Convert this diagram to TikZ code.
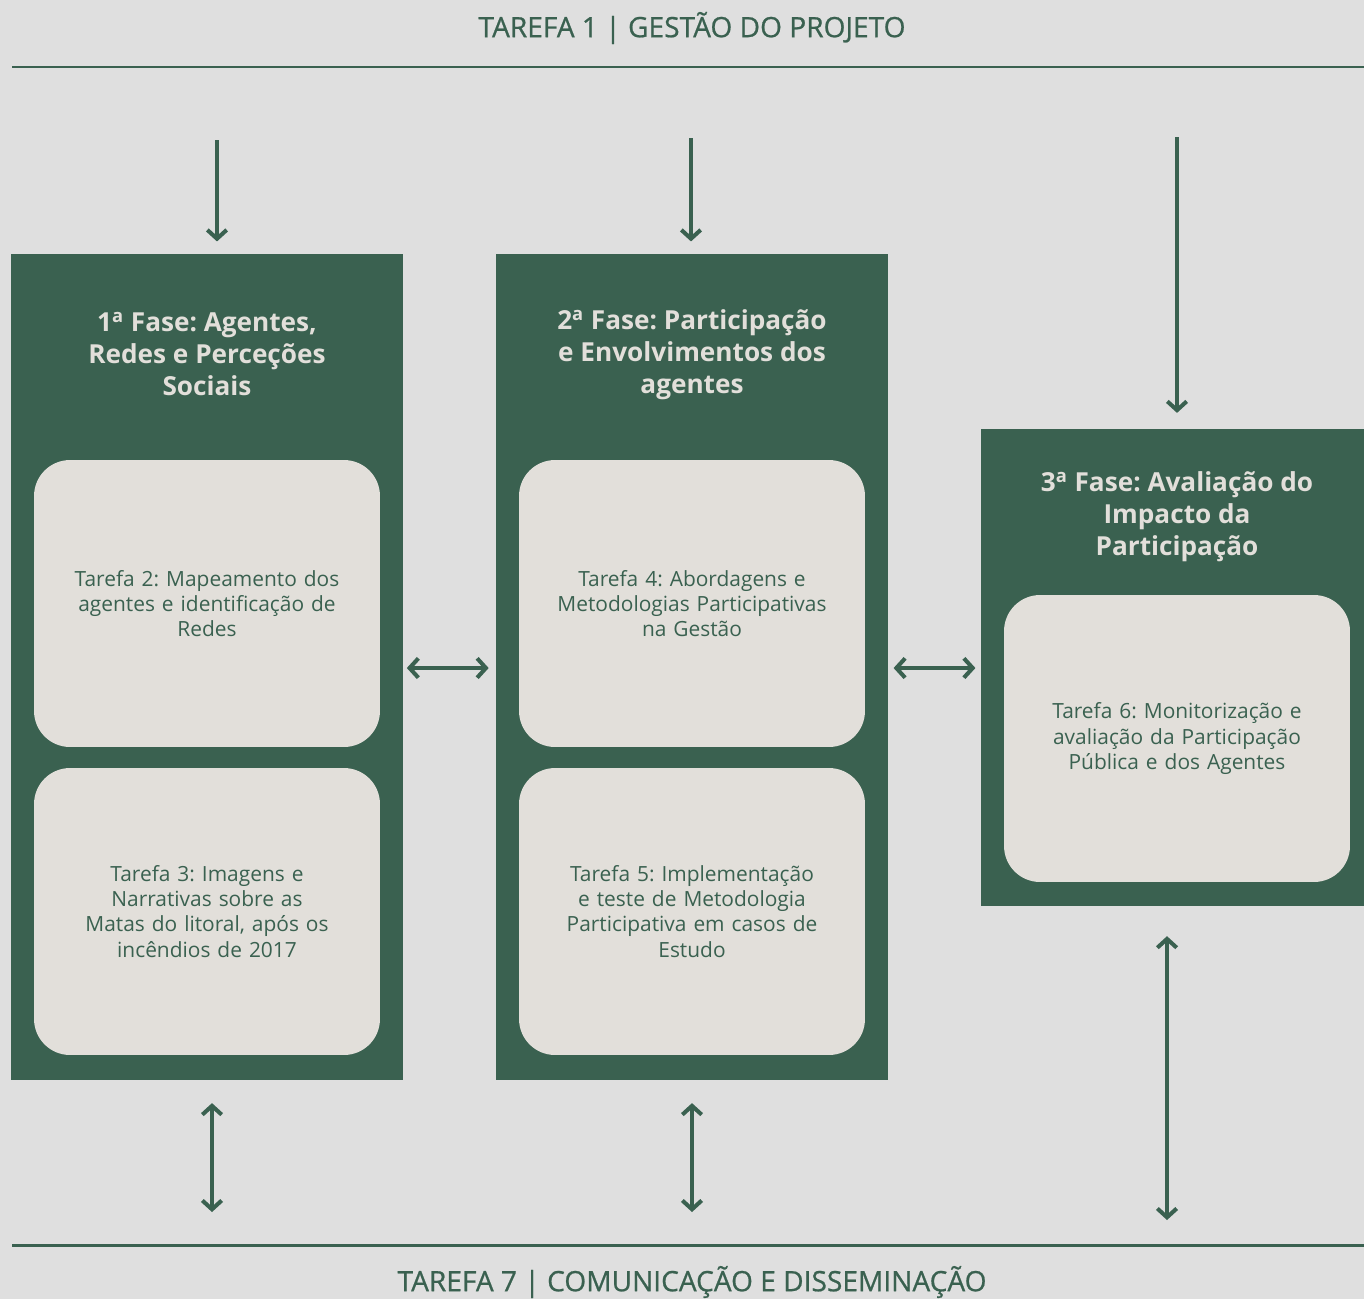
\documentclass[tikz,border=0pt]{standalone}
\usepackage{fontspec}
\setmainfont{Open Sans}
\newfontfamily\cabecfont{Open Sans}[FakeBold=0.7]
\usetikzlibrary{arrows.meta,positioning}
\definecolor{verde}{HTML}{3A6150}
\definecolor{fundo}{HTML}{DFDFDF}
\definecolor{creme}{HTML}{E2DFDA}
\newcommand{\ord}{\textsuperscript{a}}
\frenchspacing
\tikzset{
  fase/.style={fill=verde,inner sep=0pt},
  tarefa/.style={fill=creme,rounded corners=0.72cm,minimum width=6.92cm,minimum height=5.74cm,
    text width=6.4cm,align=center,text=verde,font=\fontsize{11.9}{14.3}\selectfont},
  titulo/.style={text=creme,align=center,font=\bfseries\fontsize{14.9}{18.2}\selectfont},
  cabec/.style={text=verde,font=\cabecfont\fontsize{16}{18}\selectfont},
  regua/.style={draw=verde,line width=1.7pt},
  seta/.style={draw=verde,line width=2.3pt,-{Straight Barb[length=5pt,width=11pt]}},
  setas/.style={draw=verde,line width=2.3pt,{Straight Barb[length=5pt,width=11pt]}-{Straight Barb[length=5pt,width=11pt]}}
}
\begin{document}
\begin{tikzpicture}[x=0.02cm,y=-0.02cm]
\fill[fundo] (0,0) rectangle (1364,1299);
\clip (0,0) rectangle (1364,1299);
% cabecalho e rodape
\node[cabec] (t1) at (692,28) {TAREFA 1 | GESTÃO DO PROJETO};
\node[cabec] (t7) at (692,1282) {TAREFA 7 | COMUNICAÇÃO E DISSEMINAÇÃO};
\coordinate (L1) at (12,67);
\coordinate (R1) at (1364,67);
\coordinate (L7) at (12,1245);
\coordinate (R7) at (1364,1245);
\draw[regua] (L1) -- (R1);
\draw[regua] (L7) -- (R7);
% fases
\node[fase,minimum width=7.84cm,minimum height=16.52cm] (f1) at (207,667) {};
\node[fase,minimum width=7.84cm,minimum height=16.52cm] (f2) at (692,667) {};
\node[fase,minimum width=7.66cm,minimum height=9.54cm] (f3) at (1172.5,667.5) {};
\node[titulo] (h1) at (207,354) {1\ord{} Fase: Agentes,\\Redes e Perceções\\Sociais};
\node[titulo] (h2) at (692,355) {2\ord{} Fase: Participação\\e Envolvimentos dos\\agentes};
\node[titulo] (h3) at (1177,517) {3\ord{} Fase: Avaliação do\\Impacto da\\Participação};
% tarefas
\node[tarefa] (k2) at (207,603.5) {Tarefa 2: Mapeamento dos\\agentes e identificação de\\Redes};
\node[tarefa] (k3) at (207,911.5) {Tarefa 3: Imagens e\\Narrativas sobre as\\Matas do litoral, após os\\incêndios de 2017};
\node[tarefa] (k4) at (692,603.5) {Tarefa 4: Abordagens e\\Metodologias Participativas\\na Gestão};
\node[tarefa] (k5) at (692,911.5) {Tarefa 5: Implementação\\e teste de Metodologia\\Participativa em casos de\\Estudo};
\node[tarefa] (k6) at (1177,738.5) {Tarefa 6: Monitorização e\\avaliação da Participação\\Pública e dos Agentes};
% setas de cima
\coordinate (a1) at (217,140);
\coordinate (a2) at (691,138);
\coordinate (a3) at (1177,137);
\draw[seta,shorten >=7pt] (a1) -- (a1 |- f1.north);
\draw[seta,shorten >=7pt] (a2) -- (a2 |- f2.north);
\draw[seta,shorten >=9pt] (a3) -- (a3 |- f3.north);
% setas entre fases
\draw[setas,shorten <=2pt,shorten >=4pt] (f1.east |- 0,668) -- (f2.west |- 0,668);
\draw[setas,shorten <=3pt,shorten >=3pt] (f2.east |- 0,668) -- (f3.west |- 0,668);
% setas de baixo
\coordinate (b1) at (212,1212);
\coordinate (b2) at (692,1212);
\coordinate (b3) at (1167,1220);
\draw[setas,shorten <=13pt] (b1 |- f1.south) -- (b1);
\draw[setas,shorten <=13pt] (b2 |- f2.south) -- (b2);
\draw[setas,shorten <=17pt] (b3 |- f3.south) -- (b3);
\end{tikzpicture}
\end{document}
